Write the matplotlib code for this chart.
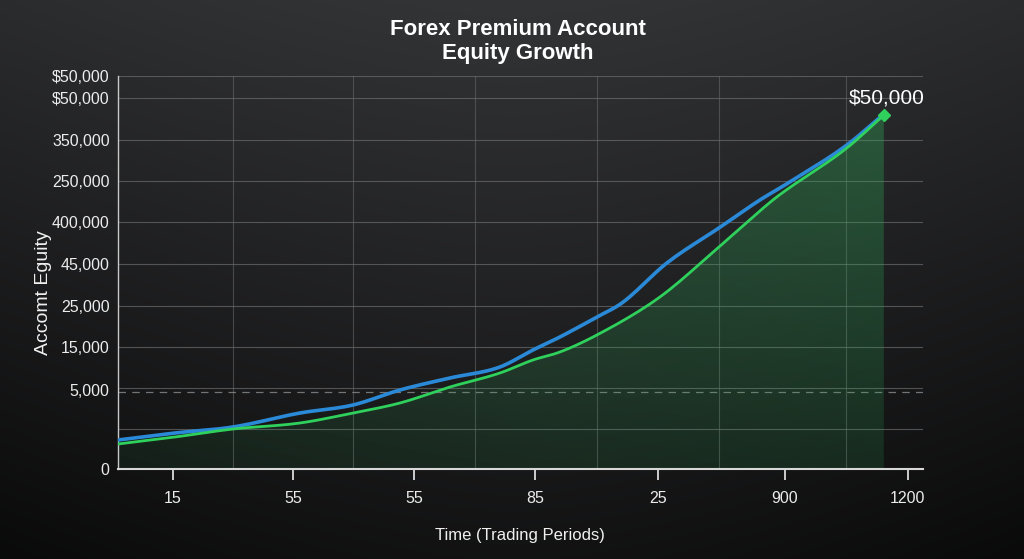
import matplotlib.pyplot as plt
import numpy as np
from matplotlib.colors import to_rgb

plt.rcParams["font.family"] = ["Liberation Sans", "DejaVu Sans"]

# series values (chart units)
blue_x = [0, 57, 115, 182, 235, 282, 332, 382, 415, 442, 479, 504, 549, 601, 642, 667, 729, 766]
blue_y = [29, 36, 42, 56, 64, 79, 91, 102, 119, 132, 152, 166, 206, 241, 269, 284, 324, 355]
green_x = [0, 57, 115, 182, 235, 282, 332, 382, 415, 442, 479, 542, 601, 655, 667, 729, 766]
green_y = [25, 32, 40, 46, 56, 66, 82, 96, 109, 117, 134, 172, 222, 269, 278, 321, 354]

# tick labels as printed on the chart
x_ticks = [55, 175, 296, 417, 540, 667, 790]
x_labels = ["15", "55", "55", "85", "25", "900", "1200"]
y_ticks = [0, 79, 122, 163, 205, 247, 288, 329, 371, 393]
y_labels = ["0", "5,000", "15,000", "25,000", "45,000", "400,000",
            "250,000", "350,000", "$50,000", "$50,000"]
y_grid = [40, 81, 122, 163, 205, 247, 288, 329, 371, 393]
x_grid = [115, 235, 357, 479, 601, 728]


def smooth(x, y, n=12):
    # cubic hermite through the points, just to draw a soft curve
    x = np.asarray(x, float)
    y = np.asarray(y, float)
    d = np.diff(y) / np.diff(x)
    m = np.r_[d[0], (d[:-1] + d[1:]) / 2, d[-1]]
    xs, ys = [], []
    for i in range(len(x) - 1):
        h = x[i + 1] - x[i]
        t = np.linspace(0, 1, n, endpoint=False)
        h00 = 2 * t**3 - 3 * t**2 + 1
        h10 = t**3 - 2 * t**2 + t
        h01 = -2 * t**3 + 3 * t**2
        h11 = t**3 - t**2
        xs.append(x[i] + t * h)
        ys.append(h00 * y[i] + h10 * h * m[i] + h01 * y[i + 1] + h11 * h * m[i + 1])
    xs.append([x[-1]])
    ys.append([y[-1]])
    return np.concatenate(xs), np.concatenate(ys)


bx, by = smooth(blue_x, blue_y)
gx_s, gy_s = smooth(green_x, green_y)

fig = plt.figure(figsize=(10.24, 5.59), dpi=100)

# dark background with a lighter band near the top
bg = fig.add_axes([0, 0, 1, 1], zorder=-5)
yy, xx = np.mgrid[0:1:300j, 0:1:500j]
light = 0.20 - 0.13 * yy - 0.09 * np.abs(xx - 0.5) ** 1.5
bg.imshow(np.dstack([light, light * 1.02, light * 1.06]).clip(0, 1),
          aspect="auto", extent=[0, 1, 0, 1], origin="upper")
bg.axis("off")

ax = fig.add_axes([0.1152, 0.161, 0.786, 0.703])
ax.set_facecolor("none")
ax.set_xlim(0, 805)
ax.set_ylim(0, 393)

for g in y_grid:
    ax.axhline(g, color="#6a6c6e", lw=0.8, alpha=0.7, zorder=1)
for g in x_grid:
    ax.axvline(g, color="#6a6c6e", lw=0.8, alpha=0.55, zorder=1)
ax.axhline(77, color="#8a8c8e", lw=0.9, ls=(0, (6, 5)), alpha=0.8, zorder=1)

# green gradient fill under the green line
poly = ax.fill_between(gx_s, gy_s, 0, color="none", lw=0)
gy, gx = np.mgrid[1:0:200j, 0:1:200j]
alpha = 0.08 + 0.22 * gy + 0.08 * gx
g_rgb = to_rgb("#2fae5a")
grad = np.zeros((200, 200, 4))
grad[..., 0], grad[..., 1], grad[..., 2] = g_rgb
grad[..., 3] = alpha
im = ax.imshow(grad, aspect="auto", extent=[0, green_x[-1] + 4, 0, 393],
               origin="upper", zorder=2)
im.set_clip_path(poly.get_paths()[0], transform=ax.transData)

ax.plot(bx, by, color="#2b8ad8", lw=2.6, zorder=4, solid_capstyle="round")
ax.plot(gx_s, gy_s, color="#2fd15c", lw=2.0, zorder=5, solid_capstyle="round")
ax.plot(green_x[-1], green_y[-1], "D", color="#2fd15c", ms=6, zorder=6)
ax.text(green_x[-1] + 3, green_y[-1] + 8, "$50,000", color="white",
        fontsize=15, ha="center", va="bottom", zorder=7)

for s in ["top", "right"]:
    ax.spines[s].set_visible(False)
ax.spines["left"].set_color("#c8c8c8")
ax.spines["bottom"].set_color("#d8d8d8")
ax.spines["left"].set_linewidth(1.0)
ax.spines["bottom"].set_linewidth(1.5)

ax.set_xticks(x_ticks)
ax.set_xticklabels(x_labels)
ax.set_yticks(y_ticks)
ax.set_yticklabels(y_labels)
ax.tick_params(axis="x", colors="#ececec", labelsize=11.5, length=8, width=1.2,
               direction="out", pad=8)
ax.tick_params(axis="y", colors="#ececec", labelsize=11.5, length=0, pad=6)

ax.set_xlabel("Time (Trading Periods)", color="#f0f0f0", fontsize=12, labelpad=16)
ax.set_ylabel("Accomt Eguity", color="#f0f0f0", fontsize=14)
ax.yaxis.set_label_coords(-0.082, 0.45)

fig.text(0.506, 0.885, "Forex Premium Account\nEquity Growth", color="white",
         fontsize=16, fontweight="bold", ha="center", va="bottom", linespacing=1.2)

fig.savefig("out.png", dpi=100)
